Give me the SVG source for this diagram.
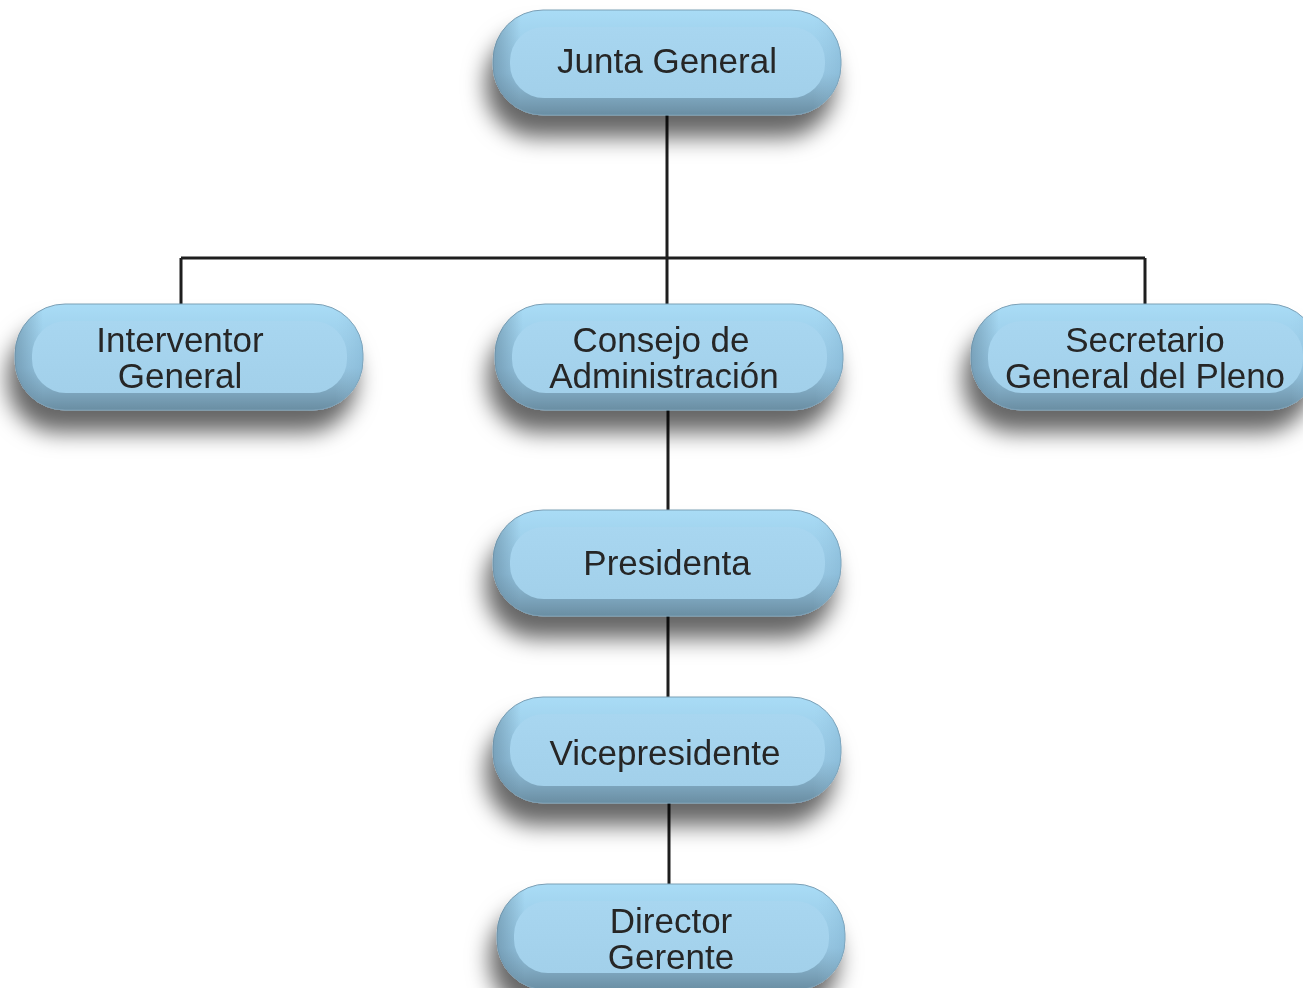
<svg xmlns="http://www.w3.org/2000/svg" width="1303" height="988" viewBox="0 0 1303 988">
<defs>
<linearGradient id="gOuter" x1="0" y1="0" x2="0" y2="1">
<stop offset="0" stop-color="#a9dcf6"/>
<stop offset="0.6" stop-color="#94c4e0"/>
<stop offset="0.82" stop-color="#7ea7bf"/>
<stop offset="1" stop-color="#6a8ea3"/>
</linearGradient>
<linearGradient id="gSide" x1="0" y1="0" x2="1" y2="0">
<stop offset="0" stop-color="#5f8298" stop-opacity="0.55"/>
<stop offset="0.08" stop-color="#5f8298" stop-opacity="0"/>
<stop offset="0.92" stop-color="#9ccbe6" stop-opacity="0"/>
<stop offset="1" stop-color="#7fb2d0" stop-opacity="0.4"/>
</linearGradient>
<linearGradient id="gFace" x1="0" y1="0" x2="0" y2="1">
<stop offset="0" stop-color="#a8d6f0"/>
<stop offset="1" stop-color="#a2d0ea"/>
</linearGradient>
<filter id="sh" x="-20%" y="-30%" width="140%" height="200%">
<feGaussianBlur in="SourceAlpha" stdDeviation="11"/>
<feOffset dx="-7" dy="22" result="b"/>
<feFlood flood-color="#000" flood-opacity="0.6"/>
<feComposite in2="b" operator="in"/>
<feMerge><feMergeNode/><feMergeNode in="SourceGraphic"/></feMerge>
</filter>
</defs>
<style>
.outer{fill:url(#gOuter);stroke:#7b9fb5;stroke-width:1}
.side{fill:url(#gSide)}
.face{fill:url(#gFace)}
.lbl{font-family:"Liberation Sans",Arial,sans-serif;font-size:35px;fill:#262626;text-anchor:middle}
.conn{stroke:#1e1e1e;stroke-width:3;fill:none}
</style>
<rect width="1303" height="988" fill="#fff"/>
<g id="connectors">
<path class="conn" d="M667,112 V258 M181,258 H1145 M181,258 V306 M667,258 V306 M1145,258 V306"/>
<path class="conn" d="M668,408 V512 M668,614 V699 M669,801 V886"/>
</g>
<g id="junta" filter="url(#sh)">
<rect class="outer" x="493" y="10" width="348" height="105" rx="50"/>
<rect class="side" x="493" y="10" width="348" height="105" rx="50"/>
<rect class="face" x="510" y="27" width="315" height="71" rx="34"/>
<text class="lbl" x="667" y="73">Junta General</text>
</g>
<g id="interventor" filter="url(#sh)">
<rect class="outer" x="15" y="304" width="348" height="106" rx="50"/>
<rect class="side" x="15" y="304" width="348" height="106" rx="50"/>
<rect class="face" x="32" y="321" width="315" height="72" rx="34"/>
<text class="lbl" x="180" y="352">Interventor</text>
<text class="lbl" x="180" y="388">General</text>
</g>
<g id="consejo" filter="url(#sh)">
<rect class="outer" x="495" y="304" width="348" height="106" rx="50"/>
<rect class="side" x="495" y="304" width="348" height="106" rx="50"/>
<rect class="face" x="512" y="321" width="315" height="72" rx="34"/>
<text class="lbl" x="661" y="352">Consejo de</text>
<text class="lbl" x="664" y="388">Administración</text>
</g>
<g id="secretario" filter="url(#sh)">
<rect class="outer" x="971" y="304" width="348" height="106" rx="50"/>
<rect class="side" x="971" y="304" width="348" height="106" rx="50"/>
<rect class="face" x="988" y="321" width="315" height="72" rx="34"/>
<text class="lbl" x="1145" y="352">Secretario</text>
<text class="lbl" x="1145" y="388">General del Pleno</text>
</g>
<g id="presidenta" filter="url(#sh)">
<rect class="outer" x="493" y="510" width="348" height="106" rx="50"/>
<rect class="side" x="493" y="510" width="348" height="106" rx="50"/>
<rect class="face" x="510" y="527" width="315" height="72" rx="34"/>
<text class="lbl" x="667" y="575">Presidenta</text>
</g>
<g id="vicepresidente" filter="url(#sh)">
<rect class="outer" x="493" y="697" width="348" height="106" rx="50"/>
<rect class="side" x="493" y="697" width="348" height="106" rx="50"/>
<rect class="face" x="510" y="714" width="315" height="72" rx="34"/>
<text class="lbl" x="665" y="765">Vicepresidente</text>
</g>
<g id="director" filter="url(#sh)">
<rect class="outer" x="497" y="884" width="348" height="106" rx="50"/>
<rect class="side" x="497" y="884" width="348" height="106" rx="50"/>
<rect class="face" x="514" y="901" width="315" height="72" rx="34"/>
<text class="lbl" x="671" y="933">Director</text>
<text class="lbl" x="671" y="969">Gerente</text>
</g>
</svg>
